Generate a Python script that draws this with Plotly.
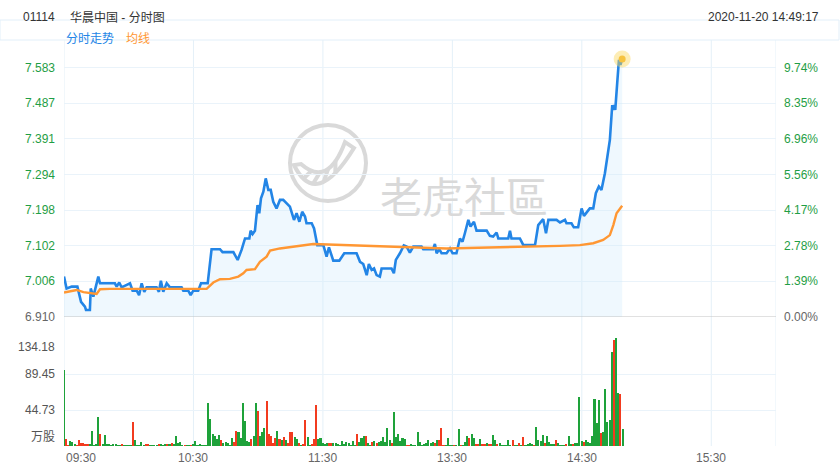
import plotly.graph_objects as go

# x axis = trading minutes since 09:30 (lunch break removed), 330 = 16:00
session_len = 330
time_ticks = [0, 60, 120, 180, 240, 300]
time_labels = ["09:30", "10:30", "11:30", "13:30", "14:30", "15:30"]

prev_close = 6.910
price_top = 7.6575
price_ticks = [6.910, 7.006, 7.102, 7.198, 7.294, 7.391, 7.487, 7.583]
pct_labels = ["0.00%", "1.39%", "2.78%", "4.17%", "5.56%", "6.96%", "8.35%", "9.74%"]

vol_ticks = [0, 44.73, 89.45, 134.18]
vol_labels = ["万股", "44.73", "89.45", "134.18"]

# 分时走势 (minute, price)
price_t = [0, 1.2, 3.6, 6.2, 7.9, 9.7, 10.2, 12.0, 12.4, 13.6,
           15.9, 16.7, 23.6, 24.4, 25.6, 26.7, 30.6, 31.8, 33.7, 34.8,
           36.0, 37.2, 38.3, 42.9, 44.0, 44.9, 46.0, 47.6, 49.1, 54.5,
           55.3, 57.6, 58.7, 59.9, 62.2, 63.5, 66.6, 68.4, 72.3, 73.5,
           78.5, 80.5, 82.3, 83.9, 85.9, 86.5, 87.4, 88.5, 89.7, 90.5,
           91.3, 92.4, 93.5, 94.7, 95.8, 97.0, 98.5, 100.1, 101.6, 103.2,
           104.7, 106.6, 107.8, 109.1, 110.4, 111.7, 112.4, 114.8, 115.9, 117.4,
           120.2, 121.7, 122.8, 124.8, 127.6, 129.9, 135.6, 137.2, 138.7, 140.3,
           141.3, 142.6, 143.7, 144.9, 146.4, 147.2, 151.8, 152.9, 153.8, 155.7,
           157.5, 158.8, 160.3, 161.9, 165.7, 166.5, 171.1, 171.9, 172.7, 173.9,
           175.0, 177.3, 178.9, 180.1, 181.9, 183.5, 184.7, 185.8, 187.4, 188.4,
           190.0, 191.2, 195.9, 197.4, 198.9, 200.5, 201.3, 205.9, 206.7, 207.4,
           211.3, 212.9, 218.3, 219.8, 222.1, 223.4, 224.5, 228.3, 229.9, 232.2,
           232.9, 235.2, 236.3, 238.3, 239.9, 241.0, 243.7, 245.3, 246.5, 247.9,
           249.1, 250.7, 253.0, 254.1, 254.6, 254.9, 255.5, 256.4, 257.2, 257.9,
           258.7]
price_v = [7.019, 6.987, 6.992, 6.992, 6.951, 6.938, 6.929, 6.929, 6.987, 6.965,
           7.019, 7.001, 7.001, 6.992, 7.003, 6.990, 7.001, 6.981, 6.981, 6.969,
           7.001, 6.978, 6.990, 6.990, 6.978, 7.008, 6.978, 7.001, 6.990, 6.990,
           6.981, 6.981, 6.969, 6.981, 6.981, 7.001, 7.001, 7.093, 7.093, 7.085,
           7.085, 7.064, 7.091, 7.122, 7.122, 7.143, 7.134, 7.143, 7.212, 7.190,
           7.230, 7.248, 7.284, 7.253, 7.253, 7.221, 7.203, 7.226, 7.226, 7.217,
           7.208, 7.172, 7.190, 7.167, 7.194, 7.181, 7.163, 7.163, 7.149, 7.104,
           7.104, 7.073, 7.098, 7.062, 7.062, 7.082, 7.082, 7.059, 7.053, 7.023,
           7.053, 7.037, 7.041, 7.023, 7.019, 7.041, 7.041, 7.028, 7.064, 7.082,
           7.103, 7.100, 7.084, 7.100, 7.100, 7.093, 7.093, 7.107, 7.082, 7.093,
           7.082, 7.082, 7.095, 7.082, 7.082, 7.122, 7.113, 7.136, 7.172, 7.154,
           7.167, 7.143, 7.143, 7.129, 7.127, 7.138, 7.122, 7.122, 7.143, 7.122,
           7.122, 7.104, 7.104, 7.158, 7.174, 7.136, 7.172, 7.172, 7.165, 7.172,
           7.163, 7.163, 7.152, 7.152, 7.203, 7.183, 7.203, 7.203, 7.244, 7.262,
           7.253, 7.298, 7.388, 7.482, 7.469, 7.482, 7.469, 7.541, 7.604, 7.590,
           7.606]

# 均线
avg_t = [0, 5.9, 9.0, 13.6, 15.1, 16.7, 21.3, 66.1, 69.2, 72.3,
         76.9, 80.8, 83.1, 84.6, 88.5, 90.8, 93.9, 95.5, 100.1, 115.5,
         130.9, 152.6, 177.3, 229.9, 239.1, 245.3, 248.4, 249.9, 253.0, 254.6,
         256.1, 258.7]
avg_v = [6.976, 6.983, 6.977, 6.972, 6.972, 6.985, 6.986, 6.986, 7.003, 7.012,
         7.013, 7.019, 7.028, 7.037, 7.039, 7.059, 7.073, 7.089, 7.095, 7.107,
         7.104, 7.098, 7.095, 7.102, 7.104, 7.109, 7.116, 7.118, 7.131, 7.158,
         7.190, 7.210]

# volume per minute (万股) and direction (R up / G down)
vol = [95, 9, 1, 6, 5, 3, 1, 7.5, 3.3, 3.3,
       3, 3, 2, 18.6, 1, 2.5, 35.6, 15, 2, 13.7,
       2.5, 2.5, 1, 3, 2, 0.5, 0.5, 2, 0.5, 0.5,
       1, 1, 29.4, 7.5, 0.5, 1, 4.6, 0.5, 2.5, 2.5,
       0.5, 0.5, 0.5, 1, 2, 2.5, 1, 2.5, 2.5, 2.5,
       3.3, 2.5, 12.4, 4.1, 4.6, 0.5, 1, 0.5, 0.5, 1.2,
       2.5, 6.6, 1, 2, 0.5, 1, 0.5, 53, 33, 14.5,
       12.4, 8.3, 13.7, 7.5, 4.1, 4.6, 4.1, 1.2, 10.4, 5.4,
       19.1, 17.8, 10.4, 53.8, 31.5, 6.2, 5.4, 8.7, 12.4, 53.8,
       43.5, 12.4, 17.8, 22.8, 56.3, 14.9, 12.4, 4.1, 9.5, 18.6,
       8.3, 7.5, 10.8, 7.5, 3.3, 17, 17, 11.6, 8.3, 4.1,
       1.2, 2.5, 32.3, 10.8, 1.2, 2.5, 8.3, 50.5, 9.1, 10.4,
       3.3, 2, 4.1, 3.3, 4.1, 4.1, 3.3, 2.5, 1.2, 6.2,
       2.5, 5.4, 4.1, 1, 6.2, 0.5, 14.9, 5.4, 9.5, 12.4,
       12.4, 3.3, 1.2, 5.4, 6.2, 4.1, 5.4, 6.2, 11.6, 5.4,
       22.8, 7.5, 3.3, 42.7, 10.8, 14.9, 6.6, 9.5, 8.3, 1.2,
       1.2, 2.5, 0.8, 1, 17.4, 5.4, 0.8, 2.5, 4.1, 7.5,
       3.3, 5.4, 3.3, 7.5, 7.5, 22.4, 1.2, 0.8, 9.5, 0.8,
       0.8, 1.2, 0.8, 21.1, 1.2, 0.8, 5.4, 12.8, 9.5, 14.5,
       9.5, 2.5, 2.5, 8.3, 2.5, 2.5, 3.3, 2, 2, 13.7,
       7.5, 2.5, 3.3, 0.8, 0.5, 0.5, 7.5, 0.8, 7.5, 0.8,
       0.5, 3.3, 0.8, 11.6, 0.5, 2.5, 3.3, 2.5, 1.2, 24,
       7.5, 6.2, 13.7, 3.3, 12.4, 5.4, 2.5, 2.5, 7.5, 3.3,
       1.2, 1, 0.5, 2.5, 12.4, 2.5, 2.5, 4.1, 4.1, 61.3,
       6.6, 5.4, 7.5, 5.4, 3.3, 12.4, 58.4, 29, 57.2, 15.7,
       17.8, 71.2, 29.8, 32.3, 117.2, 131.7, 133.8, 66.3, 64.2, 20.7]
vol_dir = ("GRRGGGRRRR" "RRGGGGGRGG" "GGGGGGGRGG" "GGRGGGGGRR" "GGGGRGGGRG"
           "RGGGGGRGGR" "GGGGGGGGGG" "GGGRGGGGGR" "RGGGGGGRGG" "RGGGRRRRRG"
           "RGRGRRRGGR" "GRRGGRRRGG" "GGGRRGGGGG" "GGGGGGRGGG" "RGGRGRGGGG"
           "GGRGGGGGGR" "RGGGGGGGGG" "GGRGRRRGGG" "GRGGRGGGRG" "GRRGRRGRRG"
           "GRGGGGGGRG" "GRGRGGGGRG" "GGGRGGGGRG" "GGGRGGRGGG" "GRGGGGGGGR"
           "GGGGGRGGRG")

BLUE = "#2385e6"
ORANGE = "#ff9733"
GREEN_TXT = "#1f9e45"
GRID = "#eaf3fa"
FONT = "Liberation Sans, Arial, Noto Sans CJK SC, sans-serif"

# plot area in pixels: x 64..776, y 40..446
L, R, T, B = 64, 776, 40, 446
W, H = R - L, B - T


def paper(x, y):
    return (x - L) / W, (B - y) / H


fig = go.Figure()

# baseline for the area under the price line
fig.add_trace(go.Scatter(x=[price_t[0], price_t[-1]], y=[prev_close, prev_close],
                         mode="lines", line=dict(width=0), hoverinfo="skip"))
fig.add_trace(go.Scatter(x=price_t, y=price_v, mode="lines", name="分时走势",
                         line=dict(color=BLUE, width=2.6),
                         fill="tonexty", fillcolor="rgba(205,232,252,0.32)"))
fig.add_trace(go.Scatter(x=avg_t, y=avg_v, mode="lines", name="均线",
                         line=dict(color=ORANGE, width=2.4)))
# last price marker
fig.add_trace(go.Scatter(x=[price_t[-1]], y=[price_v[-1]], mode="markers",
                         marker=dict(size=17, color="rgba(250,215,90,0.45)")))
fig.add_trace(go.Scatter(x=[price_t[-1]], y=[price_v[-1]], mode="markers",
                         marker=dict(size=7, color="#f6c340")))

bar_colors = ["#f23b1f" if d == "R" else "#1ea23a" for d in vol_dir]
fig.add_trace(go.Bar(x=list(range(len(vol))), y=vol, marker=dict(color=bar_colors, line=dict(width=0)),
                     width=0.72, xaxis="x2", yaxis="y2"))

shapes = []
# legend strip
x0, y0 = paper(0, 20)
x1, y1 = paper(839, 40)
shapes.append(dict(type="rect", xref="paper", yref="paper", x0=x0, x1=x1, y0=y1, y1=y0,
                   line=dict(color="#e2eff9", width=1), layer="below"))
# vertical time grid
for t in time_ticks + [session_len]:
    shapes.append(dict(type="line", xref="x", yref="paper", x0=t, x1=t, y0=0, y1=1,
                       line=dict(color="#e4f0f8", width=1), layer="below"))
# previous close line
shapes.append(dict(type="line", xref="x", yref="y", x0=0, x1=session_len,
                   y0=prev_close, y1=prev_close, line=dict(color="#c4c4c4", width=1.2)))

# watermark logo
WM = "#d9d9d9"
cx0, cy0 = paper(290, 125)
cx1, cy1 = paper(366, 201)
shapes.append(dict(type="circle", xref="paper", yref="paper", x0=cx0, x1=cx1, y0=cy1, y1=cy0,
                   line=dict(color=WM, width=4), layer="below"))


def qpt(p0, c, p2, s):
    return ((1 - s) ** 2 * p0[0] + 2 * (1 - s) * s * c[0] + s * s * p2[0],
            (1 - s) ** 2 * p0[1] + 2 * (1 - s) * s * c[1] + s * s * p2[1])


outer = [(294, 165), (316, 210), (354, 148)]
inner = [(345, 142), (328, 188), (301, 164)]
path = "M {} {} Q {} {} {} {} L {} {} Q {} {} {} {} Z".format(
    *paper(*outer[0]), *paper(*outer[1]), *paper(*outer[2]),
    *paper(*inner[0]), *paper(*inner[1]), *paper(*inner[2]))
shapes.append(dict(type="path", xref="paper", yref="paper", path=path,
                   line=dict(color=WM, width=4), layer="below"))
for s in [0.2, 0.38, 0.56, 0.74]:
    a = qpt(*outer, s)
    b = qpt(*inner, 1 - s)
    pa, pb = paper(*a), paper(*b)
    shapes.append(dict(type="line", xref="paper", yref="paper", x0=pa[0], y0=pa[1], x1=pb[0], y1=pb[1],
                       line=dict(color=WM, width=4), layer="below"))

ann = []
wx, wy = paper(464, 162)
ann.append(dict(text="老虎社區", x=wx, y=wy, xref="paper", yref="paper", showarrow=False,
                font=dict(family="Noto Sans CJK TC", size=42, color="#d9d9d9")))

# header
hx, hy = paper(21, 8)
ann.append(dict(text="01114", x=hx, y=hy, xref="paper", yref="paper", xanchor="left", showarrow=False,
                font=dict(family=FONT, size=12, color="#333")))
hx, _ = paper(68, 8)
ann.append(dict(text="华晨中国 - 分时图", x=hx, y=hy, xref="paper", yref="paper", xanchor="left",
                showarrow=False, font=dict(family=FONT, size=12, color="#333")))
hx, _ = paper(821, 8)
ann.append(dict(text="2020-11-20 14:49:17", x=hx, y=hy, xref="paper", yref="paper", xanchor="right",
                showarrow=False, font=dict(family=FONT, size=12, color="#333")))
lx, ly = paper(64, 30)
ann.append(dict(text="分时走势", x=lx, y=ly, xref="paper", yref="paper", xanchor="left",
                showarrow=False, font=dict(family=FONT, size=12, color=BLUE)))
lx, _ = paper(124, 30)
ann.append(dict(text="均线", x=lx, y=ly, xref="paper", yref="paper", xanchor="left",
                showarrow=False, font=dict(family=FONT, size=12, color=ORANGE)))

# price / percent labels
for i, (p, pct) in enumerate(zip(price_ticks, pct_labels)):
    col = "#666" if i == 0 else GREEN_TXT
    ann.append(dict(text=f"{p:.3f}", x=0, y=p, xref="paper", yref="y", xanchor="right", xshift=-7,
                    showarrow=False, font=dict(family=FONT, size=12, color=col)))
    ann.append(dict(text=pct, x=1, y=p, xref="paper", yref="y", xanchor="left", xshift=6,
                    showarrow=False, font=dict(family=FONT, size=12, color=col)))

# volume labels
for v, lab in zip(vol_ticks, vol_labels):
    anchor = "bottom" if v == 0 else ("top" if v == vol_ticks[-1] else "middle")
    ann.append(dict(text=lab, x=0, y=v, xref="paper", yref="y2", xanchor="right", yanchor=anchor,
                    xshift=-7, showarrow=False, font=dict(family=FONT, size=12, color="#555")))

# time labels
for t, lab in zip(time_ticks, time_labels):
    ann.append(dict(text=lab, x=t, y=0, xref="x", yref="paper", xanchor="left" if t == 0 else "center",
                    yanchor="middle", yshift=-12, showarrow=False,
                    font=dict(family=FONT, size=12, color="#666")))

fig.update_layout(
    width=840, height=470,
    margin=dict(l=L, r=840 - R, t=T, b=470 - B),
    paper_bgcolor="white", plot_bgcolor="white",
    showlegend=False, bargap=0,
    shapes=shapes, annotations=ann,
    xaxis=dict(range=[0, session_len], showgrid=False, zeroline=False, showticklabels=False,
               anchor="y"),
    xaxis2=dict(range=[0, session_len], showgrid=False, zeroline=False, showticklabels=False,
                anchor="y2", matches="x"),
    yaxis=dict(domain=[(B - 317) / H, 1], range=[prev_close, price_top], tickvals=price_ticks[1:] + [price_top],
               showticklabels=False, gridcolor=GRID, gridwidth=1, zeroline=False),
    yaxis2=dict(domain=[0, (B - 338) / H], range=[0, vol_ticks[-1]], tickvals=vol_ticks,
                showticklabels=False, gridcolor=GRID, gridwidth=1, zeroline=False),
)

# page has a default 8px body margin; drop it so the figure sits at the window corner
fig.write_html("out.html", config={"displayModeBar": False},
               post_script="document.body.style.margin='0';")
